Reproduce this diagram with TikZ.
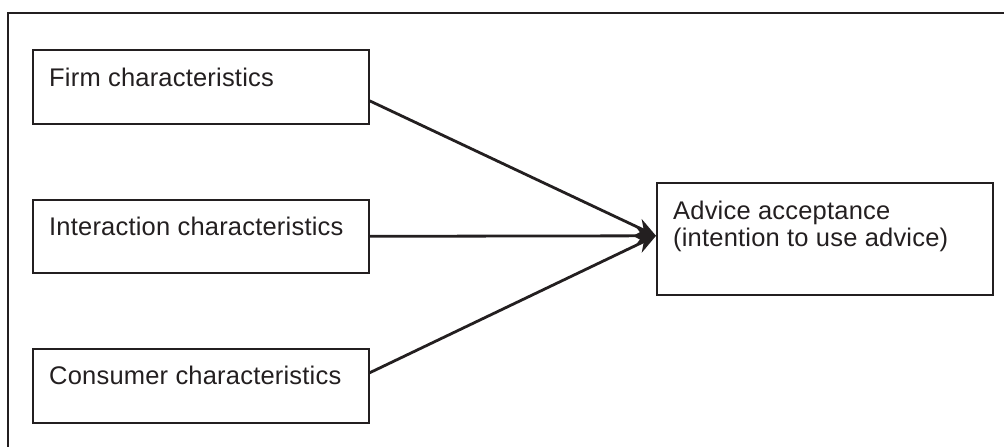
\documentclass[tikz,border=0pt]{standalone}
\usepackage{fontspec}
\setmainfont{Liberation Sans}
\usetikzlibrary{arrows.meta}
\definecolor{ink}{HTML}{231F20}
\begin{document}
\begin{tikzpicture}[x=1pt,y=-1pt,
  box/.style={draw=ink, line width=1.6pt, inner sep=0pt, anchor=north west},
  lbl/.style={anchor=base west, inner sep=0pt, font=\fontsize{25.5}{28}\selectfont\addfontfeatures{LetterSpace=0.8}, text=ink},
  link/.style={draw=ink, line width=2.8pt, -{Stealth[length=20pt,width=18pt]}}]
\path[use as bounding box] (0,0) rectangle (1004,447);
\draw[ink, line width=2.2pt] (8,447) |- (1004,13);
\node[box, minimum width=336pt, minimum height=74pt] (firm) at (32,49) {};
\node[box, minimum width=336pt, minimum height=73pt] (inter) at (32,199) {};
\node[box, minimum width=336pt, minimum height=74pt] (cons) at (32,348) {};
\node[box, minimum width=336pt, minimum height=112pt] (advice) at (656,182) {};
\node[lbl] (firmtxt) at (49,86) {Firm characteristics};
\node[lbl] (intertxt) at (49,235) {Interaction characteristics};
\node[lbl] (constxt) at (49,384) {Consumer characteristics};
\node[lbl] (advtxta) at (673,219) {Advice acceptance};
\node[lbl] (advtxtb) at (673,246) {(intention to use advice)};
\draw[link] ([yshift=-14pt]firm.east) -- ([yshift=3pt]advice.west);
\draw[link] (inter.east) -- ([yshift=3pt]advice.west);
\draw[link] ([yshift=13pt]cons.east) -- ([yshift=3pt]advice.west);
\end{tikzpicture}
\end{document}
